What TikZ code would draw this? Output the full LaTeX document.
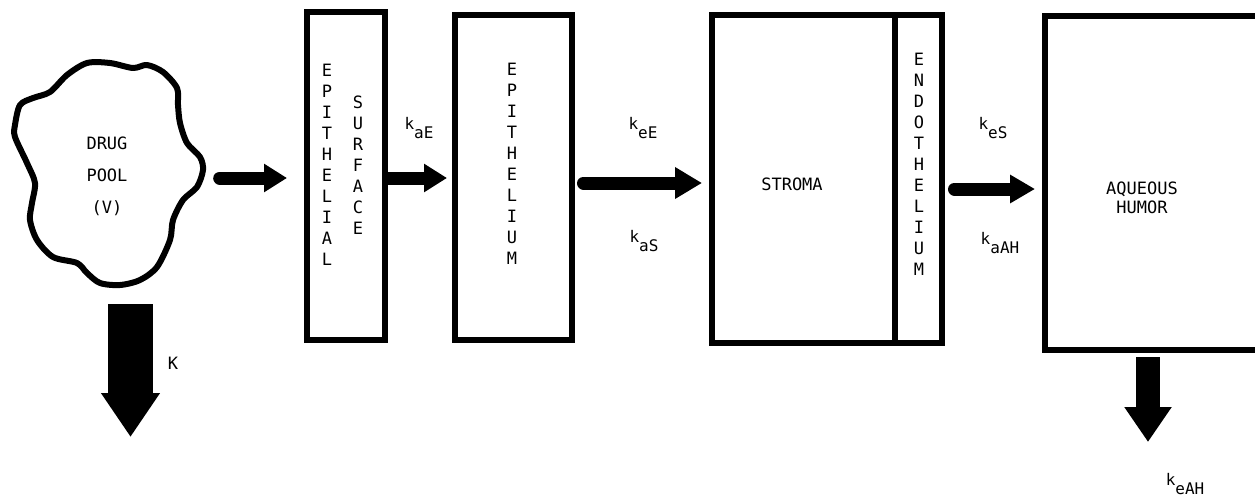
\documentclass[tikz,border=0pt]{standalone}
\usepackage{fontspec}
\setmainfont{DejaVu Sans Mono}
\usetikzlibrary{arrows.meta}
% rate constant: k with a lowered subscript
\newcommand{\rate}[1]{{\fontsize{16}{16}\selectfont k}\raisebox{-9pt}{\fontsize{16}{16}\selectfont #1}}
\begin{document}
\begin{tikzpicture}[x=1pt,y=-1pt,
  every node/.style={font=\fontsize{17}{21}\selectfont, inner sep=0pt},
  box/.style={draw, line width=5.5pt, outer sep=0pt, inner sep=0pt},
  flow/.style={line width=13pt, line cap=round, -{Triangle[width=27pt,length=23pt]}},
  drain/.style={line cap=butt}
]
\useasboundingbox (0,0) rectangle (1255,496);

% drug pool
\node[minimum width=196pt, minimum height=220pt, align=center,
      font=\fontsize{17}{32}\selectfont] (pool) at (107,176) {DRUG\\POOL\\(V)};
\draw[line width=6pt, line join=round] plot[smooth cycle] coordinates {
  (15,125) (20,105) (33,98) (50,92) (67,75) (87,63) (110,63) (133,68)
  (147,65) (163,72) (177,88) (178,105) (180,123) (187,143) (200,157)
  (203,170) (197,187) (183,200) (173,220) (170,240) (157,267) (140,280)
  (120,285) (100,283) (87,273) (77,263) (53,257) (37,240) (30,220)
  (32,203) (35,183) (27,163) (15,137)};

% compartments
\node[box, minimum width=78pt, minimum height=328pt] (surf) at (346,176) {};
\node[box, minimum width=117pt, minimum height=325pt] (epi) at (513.5,177.5) {};
\node[box, minimum width=183pt, minimum height=328pt] (stroma) at (803.5,179) {};
\node[box, minimum width=47pt, minimum height=328pt] (endo) at (918.5,179) {};
\node[minimum width=220pt, minimum height=334pt, outer sep=0pt] (aq) at (1155,183) {};
\draw[line width=5.5pt] (aq.north east) -- (aq.north west) -- (aq.south west) -- (aq.south east);

% compartment labels
\node[align=center] (tEpl) at (327,165) {E\\P\\I\\T\\H\\E\\L\\I\\A\\L};
\node[align=center] (tSurf) at (358,165) {S\\U\\R\\F\\A\\C\\E};
\node[align=center] (tEpi) at (512,164) {E\\P\\I\\T\\H\\E\\L\\I\\U\\M};
\node (tStroma) at (792,184) {STROMA};
\node[align=center] (tEndo) at (919,164.5) {E\\N\\D\\O\\T\\H\\E\\L\\I\\U\\M};
\node[align=center, font=\fontsize{17}{19}\selectfont] (tAq) at (1142,198) {AQUEOUS\\HUMOR};

% transfer arrows
\draw[flow, shorten <=14.5pt, shorten >=20pt] ([yshift=-2pt]pool.east) -- ([yshift=-2pt]surf.west);
\draw[flow, shorten <=3.5pt, shorten >=8pt] ([yshift=-2pt]surf.east) -- ([yshift=-0.5pt]epi.west);
\draw[flow, shorten <=11.5pt, shorten >=10pt, -{Triangle[width=30pt,length=27pt]}]
  ([yshift=-5.5pt]epi.east) -- ([yshift=-4pt]stroma.west);
\draw[flow, shorten <=12.5pt, shorten >=10pt, -{Triangle[width=27pt,length=25pt]}]
  ([yshift=-10pt]endo.east) -- ([yshift=-6pt]aq.west);

% elimination arrows
\coordinate (kout) at (130.5,437);
\draw[drain, line width=45pt, -{Triangle[width=56pt,length=44pt]}, shorten <=18pt]
  ([xshift=23.5pt]pool.south) -- (kout);
\coordinate (ahout) at (1148,442);
\draw[drain, line width=24pt, -{Triangle[width=45pt,length=35pt]}, shorten <=7pt]
  ([xshift=-7pt]aq.south) -- (ahout);

% rate constants
\node (lK) at (173,363) {K};
\node (lkaE) at (419,128.5) {\rate{aE}};
\node (lkeE) at (643,128.5) {\rate{eE}};
\node (lkaS) at (644,241.5) {\rate{aS}};
\node (lkeS) at (993,128.5) {\rate{eS}};
\node (lkaAH) at (1000,243.5) {\rate{aAH}};
\node (lkeAH) at (1185,484) {\rate{eAH}};
\end{tikzpicture}
\end{document}
